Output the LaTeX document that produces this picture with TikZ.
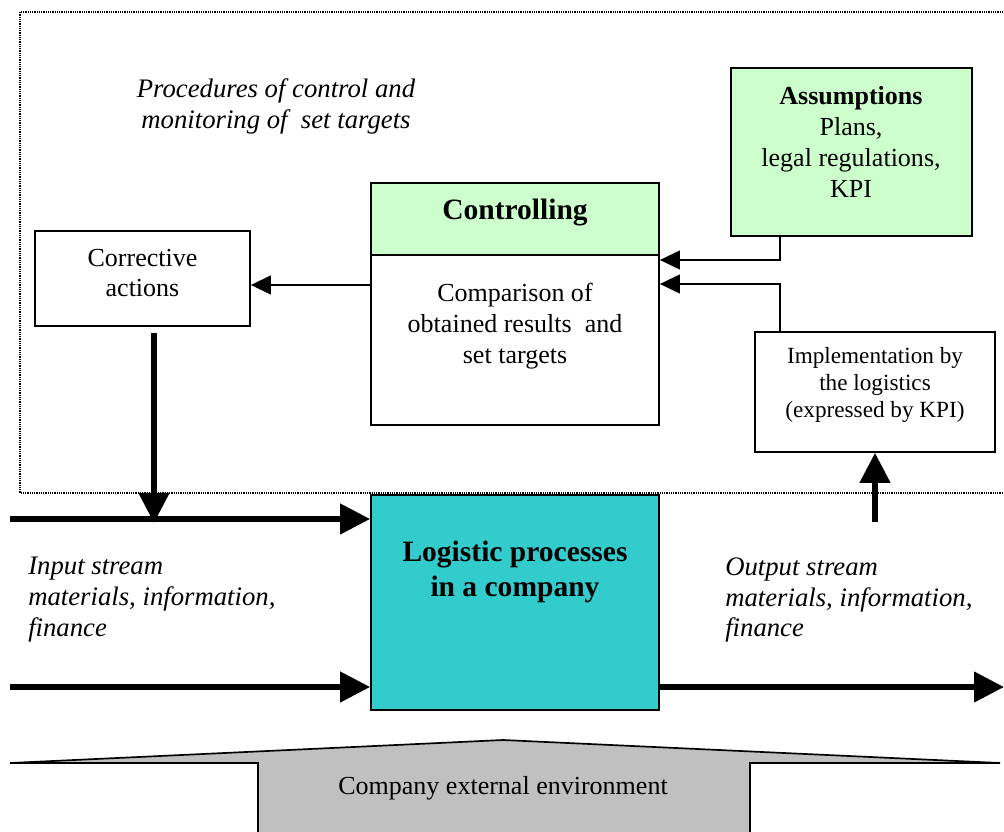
\documentclass[tikz,border=0pt]{standalone}
\usepackage{fontspec}
\setmainfont{Liberation Serif}
\usetikzlibrary{arrows.meta}
\definecolor{palegreen}{HTML}{CCFFCC}
\definecolor{tealbox}{HTML}{33CCCC}
\definecolor{envgray}{HTML}{C0C0C0}
\begin{document}
\begin{tikzpicture}[x=0.025cm,y=-0.025cm,
  box/.style={draw,line width=1.2pt,inner sep=0pt},
  txt/.style={align=center,inner sep=0pt,font=\fontsize{18.5}{22}\selectfont},
  small/.style={align=center,inner sep=0pt,font=\fontsize{16.5}{19.2}\selectfont},
  ital/.style={inner sep=0pt,font=\fontsize{19}{22}\selectfont\itshape},
  thinarr/.style={line width=1.3pt,-{Triangle[length=0.5cm,width=0.47cm]}},
  thickarr/.style={line width=4pt,-{Triangle[length=0.75cm,width=0.74cm]}}]
\useasboundingbox(0,0)rectangle(1004,832);
%
\draw[line width=0.9pt,dash pattern=on 0.8pt off 0.8pt](1030,12)--(20,12)--(20,493)--(1030,493);
\node[ital,align=center](proc)at(276,106){Procedures of control and\\monitoring of\ \ set targets};
%
\node[box,fill=palegreen,minimum width=6.025cm,minimum height=4.2cm](assum)at(851.5,152){};
\node[txt](assumtxt)at(851,142){\textbf{Assumptions}\\Plans,\\legal regulations,\\KPI};
\node[box,fill=palegreen,minimum width=7.2cm,minimum height=1.8cm](ctrl)at(515,219){};
\node[txt,font=\fontsize{21}{25}\selectfont\bfseries](ctrltxt)at(515,213){Controlling};
\node[box,minimum width=7.2cm,minimum height=4.25cm](cmp)at(515,340){};
\node[txt](cmptxt)at(515,326){Comparison of\\obtained results\ \ and\\set targets};
\node[box,minimum width=5.375cm,minimum height=2.375cm](corr)at(142.5,278.5){};
\node[txt](corrtxt)at(142.5,273){Corrective\\actions};
\node[box,minimum width=6cm,minimum height=3cm](impl)at(875,392){};
\node[small](impltxt)at(875,385){Implementation by\\the logistics\\(expressed by KPI)};
%
\draw[thinarr](cmp.west|-0,285)--(corr.east|-0,285);
\draw[thinarr](assum.south-|780,0)--(780,260)--(cmp.east|-0,260);
\draw[thinarr](impl.north-|780,0)--(780,284)--(cmp.east|-0,284);
%
\node[box,fill=tealbox,minimum width=7.2cm,minimum height=5.375cm](logi)at(515,602.5){};
\node[txt,font=\fontsize{21}{25.5}\selectfont\bfseries](logitxt)at(515,572){Logistic processes\\in a company};
%
\coordinate(in1)at(10,519);
\coordinate(in2)at(10,687);
\coordinate(out)at(1004,687);
\coordinate(merge)at(154,523);
\coordinate(feed)at(875,522);
\draw[thickarr](in1)--(logi.west|-in1);
\draw[thickarr](in2)--(logi.west|-in2);
\draw[thickarr](logi.east|-out)--(out);
\draw[thickarr](corr.south-|merge)++(0,6)--(merge);
\draw[thickarr](feed)--(impl.south-|feed);
%
\node[ital,align=left,anchor=west](instream)at(28,600){Input stream\\materials, information,\\finance};
\node[ital,align=left,anchor=west](outstream)at(725,600){Output stream\\materials, information,\\finance};
%
\draw[fill=envgray,line width=1.2pt](10,763)--(503,740)--(1000,763)--(750,763)--(750,860)--(258,860)--(258,763)--cycle;
\node[txt](env)at(503,788){Company external environment};
\end{tikzpicture}
\end{document}
